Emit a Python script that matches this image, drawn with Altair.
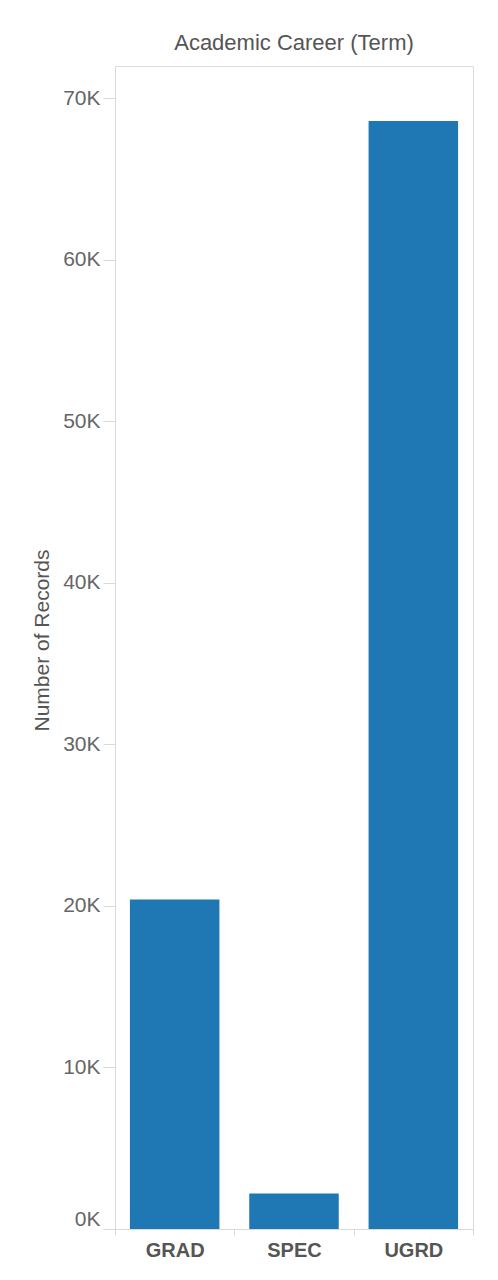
import altair as alt
import pandas as pd

careers = ["GRAD", "SPEC", "UGRD"]
records = [20400, 2200, 68600]
y_ticks = [0, 10000, 20000, 30000, 40000, 50000, 60000, 70000]

df = pd.DataFrame({"career": careers, "records": records})

FONT = "Liberation Sans"

chart = (
    alt.Chart(df)
    .mark_bar(color="#1f77b4", width=alt.RelativeBandSize(0.75))
    .encode(
        x=alt.X(
            "career:N",
            sort=careers,
            title=None,
            scale=alt.Scale(paddingInner=0, paddingOuter=0),
            axis=alt.Axis(
                labelAngle=0,
                labelFont=FONT,
                labelFontSize=20,
                labelFontWeight="bold",
                labelColor="#555555",
                labelPadding=5,
                tickBand="extent",
                tickSize=6,
                tickColor="#d9d9d9",
                domainColor="#d9d9d9",
            ),
        ),
        y=alt.Y(
            "records:Q",
            title="Number of Records",
            scale=alt.Scale(domain=[0, 72000], nice=False),
            axis=alt.Axis(
                values=y_ticks,
                labelExpr="datum.value / 1000 + 'K'",
                grid=False,
                labelFlush=True,
                labelFont=FONT,
                labelFontSize=21,
                labelColor="#666666",
                labelPadding=3,
                tickSize=12,
                tickColor="#d9d9d9",
                domainColor="#d9d9d9",
                titleFont=FONT,
                titleFontSize=21,
                titleFontWeight="normal",
                titleColor="#555555",
                titlePadding=10,
                titleY=574,
            ),
        ),
    )
    .properties(
        width=358,
        height=1163,
        title=alt.TitleParams(
            "Academic Career (Term)",
            font=FONT,
            fontSize=22,
            fontWeight="normal",
            color="#555555",
            anchor="middle",
            offset=11,
        ),
        autosize=alt.AutoSizeParams(type="none"),
        padding={"left": 107, "top": 58, "right": 17, "bottom": 43},
    )
    .configure_view(stroke="#e0e0e0", strokeWidth=1)
    .configure(background="white")
)

chart.save("out.html", embed_options={"renderer": "svg", "actions": False})
